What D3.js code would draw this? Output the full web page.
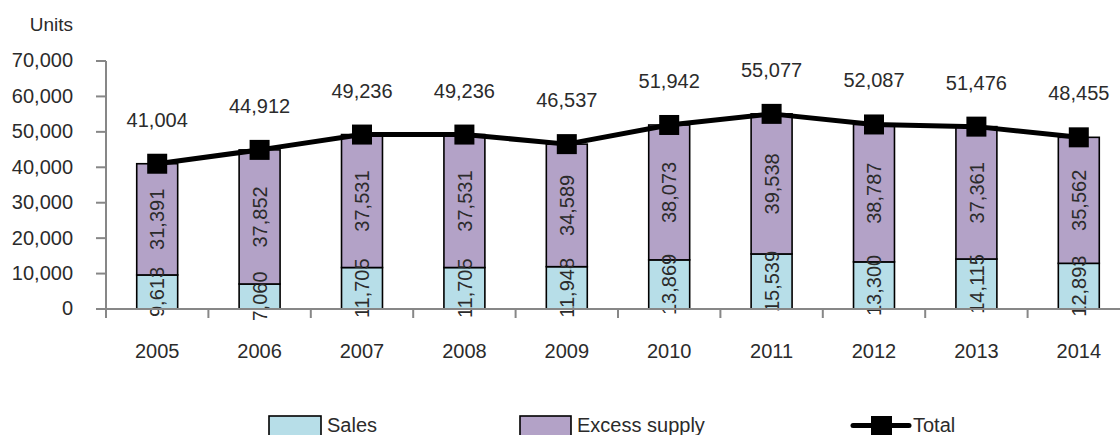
<!DOCTYPE html>
<html>
<head>
<meta charset="utf-8">
<script src="https://cdn.jsdelivr.net/npm/d3@7"></script>
<style>
  html, body { margin: 0; padding: 0; background: #fff; }
  svg { display: block; font-family: "Liberation Sans", Arial, sans-serif; }
</style>
</head>
<body>
<svg id="chart" width="1120" height="435"></svg>
<script>
// Housing units: sales and excess supply per year, with the yearly total
const years   = ["2005","2006","2007","2008","2009","2010","2011","2012","2013","2014"];
const sales   = [9613, 7060, 11705, 11705, 11948, 13869, 15539, 13300, 14115, 12893];
const excess  = [31391, 37852, 37531, 37531, 34589, 38073, 39538, 38787, 37361, 35562];
const totals  = [41004, 44912, 49236, 49236, 46537, 51942, 55077, 52087, 51476, 48455];
const yTicks  = [0, 10000, 20000, 30000, 40000, 50000, 60000, 70000];
const legendLabels = ["Sales", "Excess supply", "Total"];

const colors = { sales: "#b7dee8", excess: "#b3a2c7", line: "#000", axis: "#878787", text: "#2b2b2b" };
const fmt = d3.format(",");

const svg = d3.select("#chart");
const W = 1120;
const plot = { left: 106, right: 1130, top: 61, bottom: 309, clipBottom: 320 };

const x = d3.scaleBand().domain(years).range([plot.left, plot.right]).paddingInner(0.6).paddingOuter(0.3);
const y = d3.scaleLinear().domain([0, 70000]).range([plot.bottom, plot.top]);
const step = x.step();

const rows = years.map((yr, i) => ({ year: yr, sales: sales[i], excess: excess[i], total: totals[i] }));
const stack = d3.stack().keys(["sales", "excess"])(rows);

svg.append("defs").append("clipPath").attr("id", "plotClip")
  .append("rect").attr("x", 0).attr("y", 0).attr("width", W).attr("height", plot.clipBottom);

const g = svg.append("g").attr("clip-path", "url(#plotClip)");

// stacked bars
g.selectAll("g.layer").data(stack).join("g")
  .attr("class", "layer")
  .attr("fill", d => colors[d.key])
  .selectAll("rect").data(d => d).join("rect")
  .attr("x", d => x(d.data.year))
  .attr("width", x.bandwidth())
  .attr("y", d => y(d[1]))
  .attr("height", d => y(d[0]) - y(d[1]))
  .attr("stroke", "#000")
  .attr("stroke-width", 1.6);

// segment values, rotated inside each segment, drawn above all bars
g.selectAll("g.vals").data(stack).join("g")
  .attr("class", "vals")
  .selectAll("text").data(d => d).join("text")
  .attr("transform", d => {
    const cx = x(d.data.year) + x.bandwidth() / 2;
    const cy = (y(d[0]) + y(d[1])) / 2;
    return `translate(${cx},${cy}) rotate(-90)`;
  })
  .attr("text-anchor", "middle")
  .attr("dy", "0.36em")
  .attr("fill", colors.text)
  .style("font-size", "20px")
  .text(d => fmt(d[1] - d[0]));

// axes
const axisG = svg.append("g");
axisG.append("line")
  .attr("x1", plot.left).attr("x2", plot.left)
  .attr("y1", y(70000)).attr("y2", y(0))
  .attr("stroke", colors.axis).attr("stroke-width", 2);
axisG.append("line")
  .attr("x1", plot.left).attr("x2", W)
  .attr("y1", y(0)).attr("y2", y(0))
  .attr("stroke", colors.axis).attr("stroke-width", 2);

axisG.selectAll("line.ytick").data(yTicks).join("line")
  .attr("class", "ytick")
  .attr("x1", plot.left - 10).attr("x2", plot.left)
  .attr("y1", d => y(d)).attr("y2", d => y(d))
  .attr("stroke", colors.axis).attr("stroke-width", 2);

axisG.selectAll("text.ylab").data(yTicks).join("text")
  .attr("class", "ylab")
  .attr("x", 73)
  .attr("y", d => y(d))
  .attr("dy", "0.32em")
  .attr("text-anchor", "end")
  .attr("fill", colors.text)
  .style("font-size", "20px")
  .text(d => fmt(d));

const boundaries = years.map(yr => x(yr) - x.paddingOuter() * step).concat([plot.left + years.length * step]);
axisG.selectAll("line.xtick").data(boundaries).join("line")
  .attr("class", "xtick")
  .attr("x1", d => d).attr("x2", d => d)
  .attr("y1", y(0)).attr("y2", y(0) + 9)
  .attr("stroke", colors.axis).attr("stroke-width", 2);

axisG.selectAll("text.xlab").data(years).join("text")
  .attr("class", "xlab")
  .attr("x", d => x(d) + x.bandwidth() / 2)
  .attr("y", 358)
  .attr("text-anchor", "middle")
  .attr("fill", colors.text)
  .style("font-size", "20px")
  .text(d => d);

svg.append("text")
  .attr("x", 73).attr("y", 31)
  .attr("text-anchor", "end")
  .attr("fill", colors.text)
  .style("font-size", "19px")
  .text("Units");

// total line with square markers
const cx = d => x(d.year) + x.bandwidth() / 2;
svg.append("path")
  .datum(rows)
  .attr("fill", "none")
  .attr("stroke", colors.line)
  .attr("stroke-width", 5)
  .attr("stroke-linejoin", "round")
  .attr("d", d3.line().x(cx).y(d => y(d.total)));

svg.selectAll("rect.marker").data(rows).join("rect")
  .attr("class", "marker")
  .attr("x", d => cx(d) - 10)
  .attr("y", d => y(d.total) - 10)
  .attr("width", 20).attr("height", 20)
  .attr("fill", colors.line);

svg.selectAll("text.total").data(rows).join("text")
  .attr("class", "total")
  .attr("x", cx)
  .attr("y", d => y(d.total) - 37)
  .attr("text-anchor", "middle")
  .attr("fill", colors.text)
  .style("font-size", "20px")
  .text(d => fmt(d.total));

// legend
const leg = svg.append("g");
const legY = 416;
leg.append("rect").attr("x", 269).attr("y", legY).attr("width", 52).attr("height", 30)
  .attr("fill", colors.sales).attr("stroke", "#000").attr("stroke-width", 1.6);
leg.append("text").attr("x", 327).attr("y", 432).attr("fill", colors.text)
  .style("font-size", "20px").text(legendLabels[0]);

leg.append("rect").attr("x", 520).attr("y", legY).attr("width", 51).attr("height", 30)
  .attr("fill", colors.excess).attr("stroke", "#000").attr("stroke-width", 1.6);
leg.append("text").attr("x", 577).attr("y", 432).attr("fill", colors.text)
  .style("font-size", "20px").text(legendLabels[1]);

leg.append("line").attr("x1", 853).attr("x2", 909).attr("y1", 425.5).attr("y2", 425.5)
  .attr("stroke", colors.line).attr("stroke-width", 5).attr("stroke-linecap", "round");
leg.append("rect").attr("x", 871).attr("y", 416).attr("width", 21).attr("height", 21)
  .attr("fill", colors.line);
leg.append("text").attr("x", 913).attr("y", 432).attr("fill", colors.text)
  .style("font-size", "20px").text(legendLabels[2]);
</script>
</body>
</html>
